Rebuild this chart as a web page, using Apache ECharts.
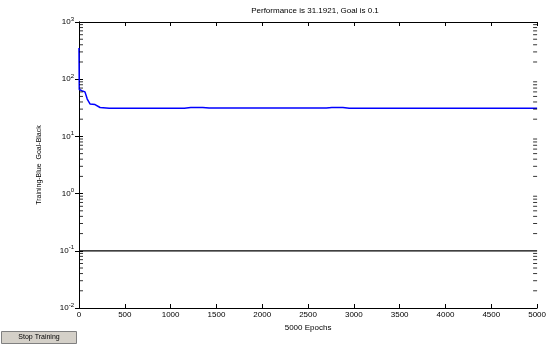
<!DOCTYPE html>
<html>
<head>
<meta charset="utf-8">
<script src="https://cdn.jsdelivr.net/npm/echarts@6/dist/echarts.min.js"></script>
<style>
  html, body { margin: 0; padding: 0; background: #fff; }
  #chart { width: 549px; height: 344px; }
</style>
</head>
<body>
<div id="chart"></div>
<script>
// training performance
const epochs = [0, 3, 8, 30, 65, 90, 120, 175, 230, 330, 1150, 1220, 1350, 1420, 2700, 2760, 2880, 2950, 5000];
const perf = [350, 66, 64, 63, 60, 45, 37, 36, 32, 31.2, 31.2, 32, 32, 31.3, 31.3, 32, 32, 31.2, 31.19];
const goalX = [0, 5000];
const goalY = [0.1, 0.1];
const titleText = 'Performance is 31.1921, Goal is 0.1';
// log minor tick positions: 2..9 in each decade
const decades = [0.01, 0.1, 1, 10, 100];
const minorMult = [2, 3, 4, 5, 6, 7, 8, 9];

const font = 'Liberation Sans';
const chart = echarts.init(document.getElementById('chart'), null, { renderer: 'canvas' });

const supLabel = v => '{b|10}{s|' + Math.round(Math.log10(v)) + '}';

const minorVals = [];
decades.forEach(d => minorMult.forEach(m => minorVals.push(d * m)));

const tickSeries = (x, off) => ({
  type: 'scatter', silent: true, z: 5,
  data: minorVals.map(v => [x, v]),
  symbol: 'rect', symbolSize: [4, 1], symbolOffset: [off, 0],
  itemStyle: { color: '#000' }
});

chart.setOption({
  animation: false,
  backgroundColor: '#fff',
  title: {
    text: titleText,
    left: 310, top: 2, textAlign: 'center',
    textStyle: { fontFamily: font, fontSize: 8, fontWeight: 'normal', color: '#000' }
  },
  grid: { left: 79, right: 10, top: 22, bottom: 36 },
  xAxis: [{
    type: 'value', min: 0, max: 5000, interval: 500,
    name: '5000 Epochs', nameLocation: 'middle', nameGap: 11,
    nameTextStyle: { fontFamily: font, fontSize: 8, color: '#000' },
    axisLine: { lineStyle: { color: '#000', width: 1 } },
    axisTick: { inside: true, length: 4, lineStyle: { color: '#000' } },
    axisLabel: { fontFamily: font, fontSize: 8, color: '#000', margin: 3, formatter: v => String(v) },
    splitLine: { show: false }
  }, {
    type: 'value', min: 0, max: 5000, interval: 500, position: 'top',
    axisLine: { lineStyle: { color: '#000', width: 1 } },
    axisTick: { inside: true, length: 4, lineStyle: { color: '#000' } },
    axisLabel: { show: false }, splitLine: { show: false }
  }],
  yAxis: [{
    type: 'log', logBase: 10, min: 0.01, max: 1000,
    name: 'Training-Blue  Goal-Black', nameLocation: 'middle', nameGap: 36,
    nameTextStyle: { fontFamily: font, fontSize: 7, color: '#000' },
    axisLine: { lineStyle: { color: '#000', width: 1 } },
    axisTick: { inside: true, length: 4, lineStyle: { color: '#000' } },
    axisLabel: {
      margin: 5, formatter: supLabel,
      rich: {
        b: { fontFamily: font, fontSize: 8, color: '#000' },
        s: { fontFamily: font, fontSize: 6, color: '#000', padding: [0, 0, 6, 0] }
      }
    },
    splitLine: { show: false }
  }, {
    type: 'log', logBase: 10, min: 0.01, max: 1000, position: 'right',
    axisLine: { lineStyle: { color: '#000', width: 1 } },
    axisTick: { inside: true, length: 4, lineStyle: { color: '#000' } },
    axisLabel: { show: false }, splitLine: { show: false }
  }],
  series: [
    tickSeries(0, 2),
    tickSeries(5000, -2),
    {
      type: 'line', name: 'Training',
      data: epochs.map((x, i) => [x, perf[i]]),
      showSymbol: false,
      lineStyle: { color: '#0000ff', width: 1.5 }
    }, {
      type: 'line', name: 'Goal',
      data: goalX.map((x, i) => [x, goalY[i]]),
      showSymbol: false,
      lineStyle: { color: '#000', width: 1.2 }
    }
  ],
  graphic: [{
    type: 'group', left: 1, top: 331,
    children: [{
      type: 'rect', shape: { x: 0, y: 0, width: 75, height: 12 },
      style: { fill: '#d4d0c8', stroke: '#808080', lineWidth: 1 }
    }, {
      type: 'text', x: 37.5, y: 6,
      style: { text: 'Stop Training', fontFamily: font, fontSize: 7, fill: '#000', align: 'center', verticalAlign: 'middle' }
    }]
  }]
});
</script>
</body>
</html>
